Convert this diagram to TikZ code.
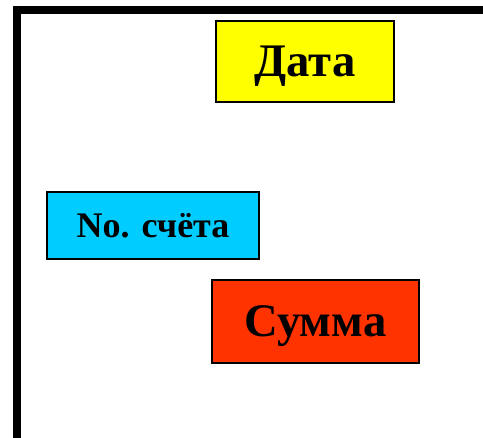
\documentclass[tikz,border=0pt]{standalone}
\usepackage{fontspec}
\setmainfont{Liberation Serif}
\definecolor{boxyellow}{HTML}{FFFF00}
\definecolor{boxcyan}{HTML}{00CCFF}
\definecolor{boxred}{HTML}{FF3300}
\tikzset{
  field/.style={draw=black, line width=1.5pt, inner sep=0pt, font=\bfseries},
}
\begin{document}
\begin{tikzpicture}[x=0.75pt,y=-0.75pt]
\useasboundingbox (0,0) rectangle (483,438);
\begin{scope}
\clip (0,0) rectangle (483,438);
\draw[line width=6pt, line join=miter] (17,450) -- (17,10) -- (500,10);
\end{scope}
\node[field, fill=boxyellow, text depth=0pt, minimum width=178*0.75pt, minimum height=81*0.75pt, font=\bfseries\fontsize{35}{40}\selectfont] (date) at (305,61.5) {Дата};
\node[field, fill=boxcyan, minimum width=212*0.75pt, minimum height=67*0.75pt, font=\bfseries\fontsize{27}{30}\selectfont] (acct) at (153,225.5) {No. счёта};
\node[field, fill=boxred, text depth=0pt, minimum width=207*0.75pt, minimum height=83*0.75pt, font=\bfseries\fontsize{35}{40}\selectfont] (sum) at (315.5,321.5) {Сумма};
\end{tikzpicture}
\end{document}
